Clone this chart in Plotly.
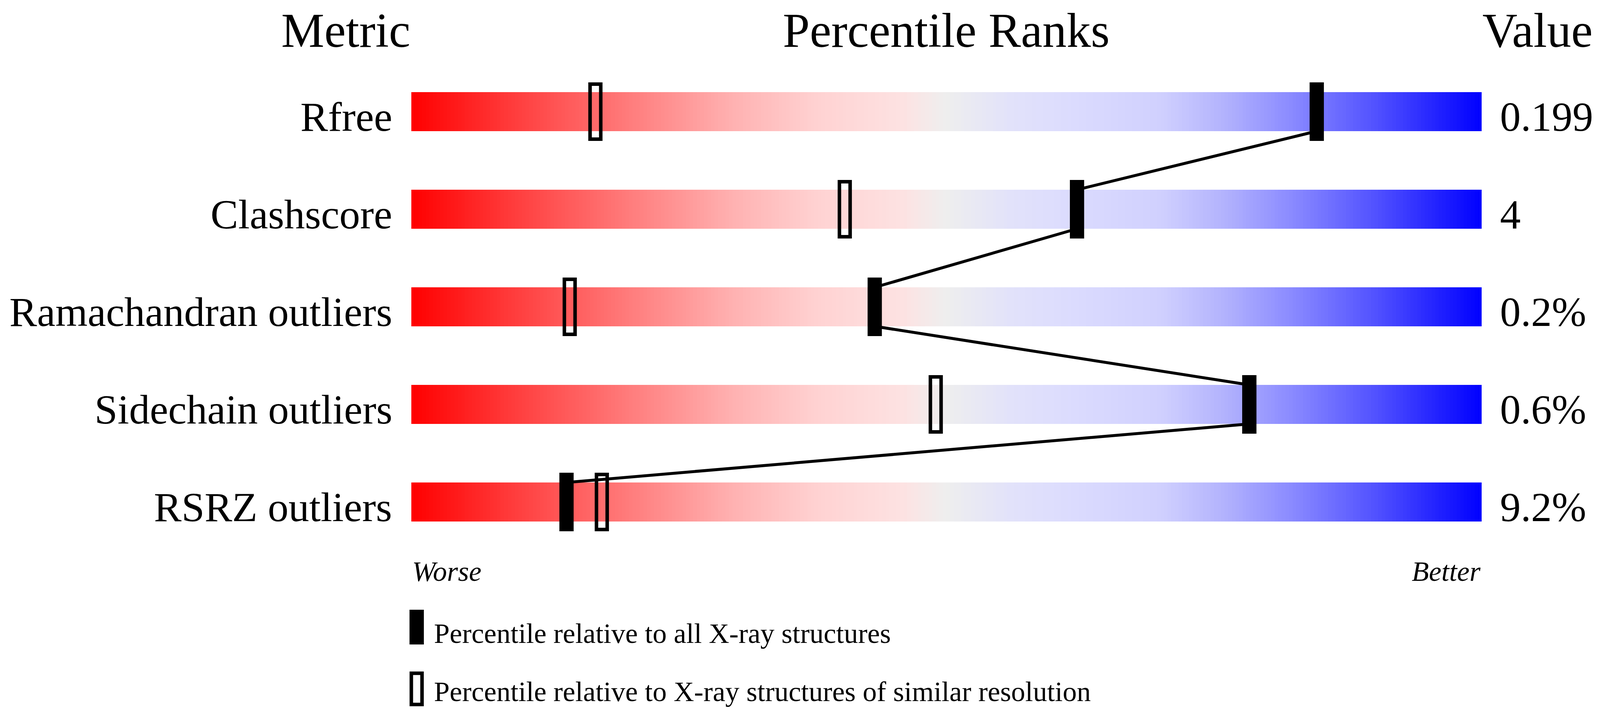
import numpy as np
import plotly.graph_objects as go

# Data

metrics = ["Rfree", "Clashscore", "Ramachandran outliers", "Sidechain outliers", "RSRZ outliers"]
values = ["0.199", "4", "0.2%", "0.6%", "9.2%"]
pct_all = [84.6, 62.2, 43.3, 78.3, 14.5]      # percentile vs all X-ray structures
pct_similar = [17.2, 40.5, 14.8, 49.0, 17.8]  # percentile vs similar resolution

# Layout settings (pixels of the page)
# the browser viewport comes out 4096 wide, so x is squeezed from the 4485 wide original

page_off = 8            # body margin of the html page
view_w, view_h = 4096, 1824
sx = view_w / 4485
fig_w = view_w - 2 * page_off
fig_h = view_h - 2 * page_off
px_per_pct = 30.0 * sx          # 3000 px for 0..100 in the original
bar_left = 1153 * sx - page_off
row0 = 286 - page_off           # centre of first bar
px_per_row = 250.0
bar_h = 0.4                     # in row units (100 px)
font = "Liberation Serif, Times New Roman, serif"

gradient = [
    [0.00, "#ff0000"],
    [0.10, "#ff3f3f"],
    [0.20, "#ff7a7a"],
    [0.30, "#ffb1b1"],
    [0.38, "#ffd2d2"],
    [0.46, "#fde2e2"],
    [0.50, "#eeeeee"],
    [0.56, "#e2e2fa"],
    [0.62, "#dbdbfe"],
    [0.70, "#d0d0fe"],
    [0.76, "#b2b2fd"],
    [0.82, "#8c8cff"],
    [0.90, "#5252ff"],
    [1.00, "#0000ff"],
]

rows = list(range(len(metrics)))

# background gradient bars, one heatmap with empty rows between bars
edges_x = np.linspace(0, 100, 301)
mids_x = (edges_x[:-1] + edges_x[1:]) / 2
edges_y = []
z = []
for i in rows:
    edges_y += [i - bar_h / 2, i + bar_h / 2]
    z.append(list(mids_x))
    if i != rows[-1]:
        z.append([None] * len(mids_x))

fig = go.Figure()

fig.add_trace(
    go.Heatmap(
        x=edges_x, y=edges_y, z=z, colorscale=gradient, zmin=0, zmax=100,
        showscale=False, hoverinfo="skip",
    )
)

# filled markers (all structures)
fig.add_trace(
    go.Bar(
        x=pct_all, y=[0.6] * len(rows), base=[i - 0.3 for i in rows], width=1.333,
        marker=dict(color="black", line=dict(width=0)), hoverinfo="skip",
    )
)

# open markers (similar resolution)
fig.add_trace(
    go.Bar(
        x=pct_similar, y=[0.564] * len(rows), base=[i - 0.282 for i in rows], width=1.0,
        marker=dict(color="rgba(0,0,0,0)", line=dict(color="black", width=9)), hoverinfo="skip",
    )
)

# line joining the filled markers, bottom of one bar to top of the next
lx, ly = [], []
for i in rows:
    lx += [pct_all[i], pct_all[i]]
    ly += [i - bar_h / 2, i + bar_h / 2]
fig.add_trace(
    go.Scatter(
        x=lx[1:-1], y=ly[1:-1], mode="lines",
        line=dict(color="black", width=7.5), hoverinfo="skip",
    )
)

# text
def label(x, y, text, size, anchor, italic=False):
    fig.add_annotation(
        x=x, y=y, xref="x", yref="y", text=text, showarrow=False,
        xanchor=anchor, yanchor="middle",
        font=dict(family=font, size=size, color="black", style="italic" if italic else "normal"),
    )

for i in rows:
    label(-52 / 30, i + 0.054, metrics[i], 106, "right")
    label(100 + 50 / 30, i + 0.054, values[i], 106, "left")

# headers kept just inside the top edge
title_y = (78 - 286) / px_per_row
label(0, title_y, "Metric", 124, "right")
label(50, title_y, "Percentile Ranks", 124, "center")
label(100, title_y, "Value", 124, "left")

label(0, 4.711, "Worse", 72, "left", italic=True)
label(100, 4.711, "Better", 72, "right", italic=True)

# legend swatches
fig.add_shape(type="rect", x0=-0.17, x1=1.17, y0=5.104, y1=5.46,
              fillcolor="black", line=dict(width=0))
fig.add_shape(type="rect", x0=0.0, x1=1.0, y0=5.755, y1=6.075,
              fillcolor="white", line=dict(color="black", width=9))
label(2.03, 5.346, "Percentile relative to all X-ray structures", 72, "left")
label(2.03, 5.944, "Percentile relative to X-ray structures of similar resolution", 72, "left")

fig.update_xaxes(
    range=[-bar_left / px_per_pct, (fig_w - bar_left) / px_per_pct],
    visible=False, showgrid=False, zeroline=False,
)
fig.update_yaxes(
    range=[(fig_h - row0) / px_per_row, -row0 / px_per_row],
    visible=False, showgrid=False, zeroline=False,
)
fig.update_layout(
    width=fig_w, height=fig_h,
    margin=dict(l=0, r=0, t=0, b=0),
    barmode="overlay",
    showlegend=False,
    plot_bgcolor="white",
    paper_bgcolor="white",
)

fig.write_html("out.html")
